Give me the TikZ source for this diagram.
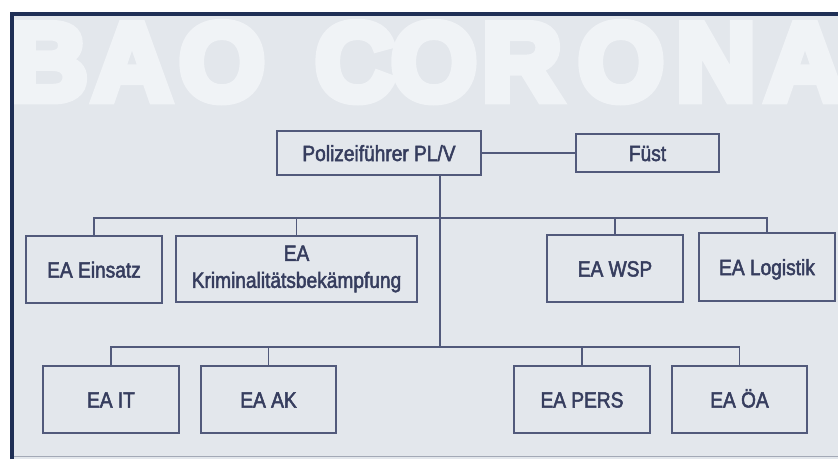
\documentclass[tikz,border=0pt]{standalone}
\usepackage{fontspec}
\setmainfont{Liberation Sans}[FakeStretch=0.87,FakeBold=2.2]
\newfontfamily\bigfont{Liberation Sans Bold}[FakeBold=8]
\definecolor{bg}{HTML}{E3E7EC}
\definecolor{ghost}{HTML}{F0F3F6}
\definecolor{navy}{HTML}{1F2F55}
\definecolor{linec}{HTML}{525A7B}
\definecolor{txt}{HTML}{363D5E}
\definecolor{bottomc}{HTML}{A3A9B6}
\begin{document}
\begin{tikzpicture}[x=1pt,y=-1pt,
  unit/.style={draw=linec,line width=1.8pt,rectangle,inner sep=0pt,text=txt,
    font=\fontsize{22}{27}\selectfont,align=center},
  oneline/.style={text height=16pt,text depth=0pt},
  conn/.style={draw=linec,line width=1.8pt},
  ghostletter/.style={anchor=base,inner sep=0pt,text=ghost,font=\bigfont\fontsize{110}{110}\selectfont}]
\useasboundingbox (0,0) rectangle (838,459);
\fill[white] (0,0) rectangle (838,459);
\fill[bg] (12,14) rectangle (838,459);
\begin{scope}
\clip (14,16) rectangle (838,456);
\foreach \ch/\px [count=\i] in {B/48,A/132,O/222,C/355,O/434,R/522,O/621,N/716,A/805}
  \node[ghostletter] (g\i) at (\px,100) {\ch};
\end{scope}
\draw[navy,line width=4pt] (12,459) -- (12,14) -- (838,14);
\draw[bottomc,line width=1pt] (14,456.5) -- (838,456.5);
% nodes
\node[unit,oneline,minimum width=204pt,minimum height=44pt] (pl) at (379,153) {Polizeiführer PL/V};
\node[unit,oneline,minimum width=143pt,minimum height=38pt] (fust) at (647.5,153) {Füst};
\node[unit,oneline,minimum width=136pt,minimum height=67pt] (einsatz) at (94,269.5) {EA Einsatz};
\node[unit,minimum width=241pt,minimum height=66pt] (krim) at (296.5,269) {EA\\Kriminalitätsbekämpfung};
\node[unit,oneline,minimum width=136pt,minimum height=67pt] (wsp) at (615,268.5) {EA WSP};
\node[unit,oneline,minimum width=136pt,minimum height=68pt] (log) at (767,267) {EA Logistik};
\node[unit,oneline,minimum width=136pt,minimum height=67pt] (it) at (111,399.5) {EA IT};
\node[unit,oneline,minimum width=135pt,minimum height=67pt] (ak) at (268.5,399.5) {EA AK};
\node[unit,oneline,minimum width=136pt,minimum height=67pt] (pers) at (582,399.5) {EA PERS};
\node[unit,oneline,minimum width=135pt,minimum height=67pt] (oa) at (739.5,399.5) {EA ÖA};
% connectors
\coordinate (bus1) at (0,218);
\coordinate (trunk) at (440,347);
\draw[conn] (pl) -- (fust);
\draw[conn] (pl.south -| trunk) -- (trunk);
\draw[conn] (einsatz.north) -- (einsatz.north |- bus1) -- (log.north |- bus1) -- (log.north);
\draw[conn] (krim.north) -- (krim.north |- bus1);
\draw[conn] (wsp.north) -- (wsp.north |- bus1);
\draw[conn] (it.north) -- (it.north |- trunk) -- (oa.north |- trunk) -- (oa.north);
\draw[conn] (ak.north) -- (ak.north |- trunk);
\draw[conn] (pers.north) -- (pers.north |- trunk);
\end{tikzpicture}
\end{document}
